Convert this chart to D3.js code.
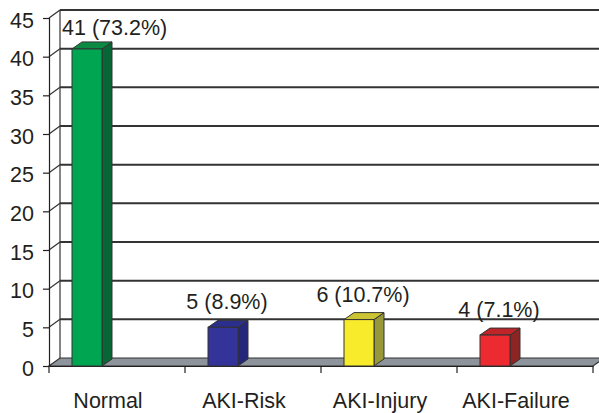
<!DOCTYPE html>
<html><head><meta charset="utf-8">
<script src="https://cdn.jsdelivr.net/npm/d3@7"></script>
<style>body{margin:0;background:#fff}svg{display:block}text{font-family:"Liberation Sans",Arial,sans-serif;fill:#231f20}</style>
</head><body><svg id="c" width="599" height="413"></svg>
<script>
const categories = ["Normal","AKI-Risk","AKI-Injury","AKI-Failure"];
const values = [41,5,6,4];
const labels = ["41 (73.2%)","5 (8.9%)","6 (10.7%)","4 (7.1%)"];
const yTicks = [0,5,10,15,20,25,30,35,40,45];
const frontColors = ["#00a551","#333399","#f8eb2c","#ec2a2f"];
const sideColors = ["#086535","#25277a","#97983a","#8c2424"];
const topColors = ["#0c8a43","#2c2e8c","#cbc435","#bf2429"];

const svg = d3.select("#c");
const x = d3.scaleBand().domain(categories).range([49,593]).paddingInner(0).paddingOuter(0);
const y = d3.scaleLinear().domain([0,45]).range([366,18]);
const wdx = 11, wdy = -8;   // wall depth
const bdx = 10, bdy = -7;   // bar depth
const x0 = 49, x1 = 593;
const FS = 21.5;

const g = svg.append("g");
g.selectAll("line.grid").data(yTicks.filter(d=>d>0)).join("line")
  .attr("x1", x0+wdx).attr("x2", 599+5).attr("y1", d=>y(d)+wdy).attr("y2", d=>y(d)+wdy)
  .attr("stroke","#333").attr("stroke-width",2);
g.selectAll("line.diag").data(yTicks.filter(d=>d>0)).join("line")
  .attr("x1", x0).attr("y1", d=>y(d)).attr("x2", x0+wdx).attr("y2", d=>y(d)+wdy)
  .attr("stroke","#333").attr("stroke-width",1.2);
g.append("line").attr("x1",x0+wdx).attr("x2",x0+wdx).attr("y1",y(45)+wdy).attr("y2",y(0)+wdy)
  .attr("stroke","#333").attr("stroke-width",1.2);

g.append("polygon")
  .attr("points",[[x0,y(0)],[x1,y(0)],[x1+wdx,y(0)+wdy],[x0+wdx,y(0)+wdy]].map(p=>p.join(",")).join(" "))
  .attr("fill","#8d949b").attr("stroke","#333").attr("stroke-width",1.2);

const yAxis = d3.axisLeft(y).tickValues(yTicks).tickSize(6).tickPadding(9);
const ya = svg.append("g").attr("transform",`translate(${x0},0)`).call(yAxis);
ya.select(".domain").attr("stroke","#231f20").attr("stroke-width",1.2);
ya.selectAll(".tick line").attr("stroke","#231f20").attr("stroke-width",1.2);
ya.selectAll(".tick text").attr("font-size",FS).attr("dy","0.42em").style("font-family","Liberation Sans, Arial, sans-serif").attr("fill","#231f20");

const xAxis = d3.axisBottom(x).tickSize(0).tickPadding(0);
const xa = svg.append("g").attr("transform",`translate(0,${y(0)})`).call(xAxis);
xa.select(".domain").attr("stroke","#231f20").attr("stroke-width",1.2);
xa.selectAll(".tick text").attr("font-size",FS).attr("y",42).attr("dy",0).attr("dx",-9)
  .style("font-family","Liberation Sans, Arial, sans-serif").attr("fill","#231f20");
const bounds = categories.map(c=>x(c)).concat([x1]);
xa.selectAll("line.bt").data(bounds).join("line").attr("class","bt")
  .attr("x1",d=>d).attr("x2",d=>d).attr("y1",0).attr("y2",7).attr("stroke","#231f20").attr("stroke-width",1.2);

const bw = 30, boff = 23;
const bars = svg.append("g").selectAll("g").data(categories).join("g");
bars.each(function(c,i){
  const s = d3.select(this);
  const l = x(c)+boff, r = l+bw, t = y(values[i]), b = y(0);
  s.append("polygon").attr("points",[[r,b],[r+bdx,b+bdy],[r+bdx,t+bdy],[r,t]].map(p=>p.join(",")).join(" "))
    .attr("fill",sideColors[i]).attr("stroke","#333").attr("stroke-width",1);
  s.append("polygon").attr("points",[[l,t],[r,t],[r+bdx,t+bdy],[l+bdx,t+bdy]].map(p=>p.join(",")).join(" "))
    .attr("fill",topColors[i]).attr("stroke","#333").attr("stroke-width",1);
  s.append("rect").attr("x",l).attr("y",t).attr("width",bw).attr("height",b-t)
    .attr("fill",frontColors[i]).attr("stroke","#333").attr("stroke-width",1);
  const cx = l + bw/2 + 4;
  const txt = s.append("text").text(labels[i]).attr("font-size",FS).attr("text-anchor","middle")
    .attr("y", Math.max(t-18, 35)).attr("x", cx);
  const w = txt.node().getComputedTextLength();
  if (cx - w/2 < 62) txt.attr("text-anchor","start").attr("x",62);
});
</script></body></html>
